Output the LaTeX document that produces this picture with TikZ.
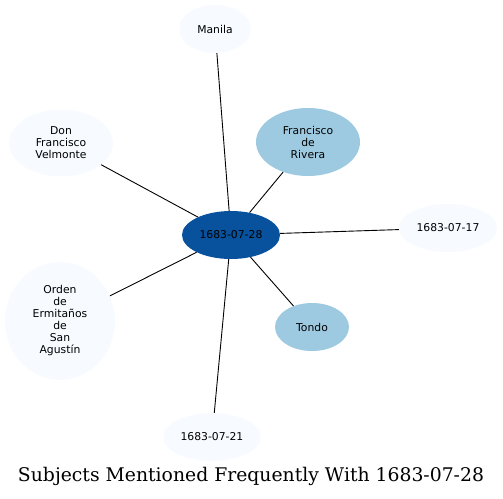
\documentclass[tikz,border=0pt]{standalone}
\usepackage{fontspec}
\setsansfont{DejaVu Sans}
\setmainfont{DejaVu Serif}
\usetikzlibrary{shapes.geometric,positioning}
\definecolor{hubblue}{HTML}{08519C}
\definecolor{midblue}{HTML}{9ECAE1}
\definecolor{paleblue}{HTML}{F7FBFF}

\begin{document}
\begin{tikzpicture}[
  x=1pt, y=-1pt,
  font=\sffamily\fontsize{10.8}{12}\selectfont,
  subj/.style={ellipse, align=center, inner sep=0pt, draw=none},
  hub/.style={subj, fill=hubblue, minimum width=98pt, minimum height=48pt},
  near/.style={subj, fill=midblue},
  far/.style={subj, fill=paleblue},
  link/.style={draw=black, line width=0.9pt}
]
\useasboundingbox (0,0) rectangle (503,498);
\node[hub] (day) at (231,235) {1683-07-28};
\node[far, minimum width=72pt, minimum height=48pt] (manila) at (215,29) {Manila};
\node[near, minimum width=104pt, minimum height=68pt] (rivera) at (308,142) {Francisco\\de\\Rivera};
\node[far, minimum width=104pt, minimum height=67pt] (velmonte) at (61,143) {Don\\Francisco\\Velmonte};
\node[far, minimum width=98pt, minimum height=48pt] (d17) at (448,228) {1683-07-17};
\node[far, minimum width=110pt, minimum height=118pt] (orden) at (60,321) {Orden\\de\\Ermitaños\\de\\San\\Agustín};
\node[near, minimum width=74pt, minimum height=48pt] (tondo) at (312,327) {Tondo};
\node[far, minimum width=98pt, minimum height=48pt] (d21) at (212,437) {1683-07-21};
\node[font=\rmfamily\fontsize{18.8}{22}\selectfont] (title) at (251,476) {Subjects Mentioned Frequently With 1683-07-28};
\draw[link] (day) -- (manila);
\draw[link] (day) -- (rivera);
\draw[link] (day) -- (velmonte);
\draw[link] (day) -- (d17);
\draw[link] (day) -- (orden);
\draw[link] (day) -- (tondo);
\draw[link] (day) -- (d21);
\end{tikzpicture}
\end{document}
